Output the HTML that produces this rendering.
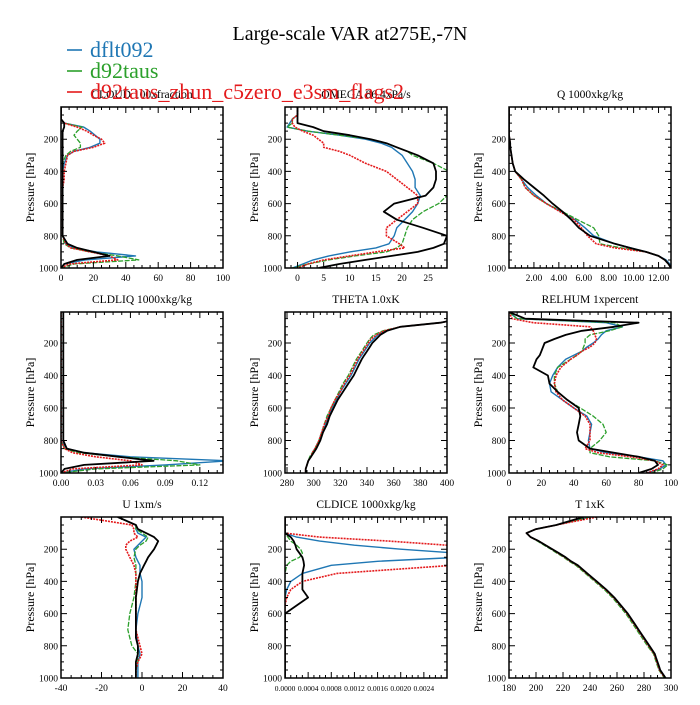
<!DOCTYPE html>
<html><head><meta charset="utf-8">
<style>
body{margin:0;background:#fff;}
svg text{font-family:"Liberation Serif",serif;}
</style></head>
<body>
<svg id="chart" width="700" height="700" viewBox="0 0 700 700" xmlns="http://www.w3.org/2000/svg">
<text x="350" y="40" text-anchor="middle" font-size="20">Large-scale VAR at275E,-7N</text>
</svg>
<script>
const P=[0,50,75,100,125,150,175,200,225,250,275,300,350,400,450,500,550,600,650,700,750,800,850,875,900,925,950,975,1000];
const seriesNames=["dflt092","d92taus","d92taus_zhun_c5zero_e3sm_flags2"];
const panelTitles=["CLOUD  100xfraction","OMEGA  86.4xPa/s","Q  1000xkg/kg","CLDLIQ  1000xkg/kg","THETA  1.0xK","RELHUM  1xpercent","U  1xm/s","CLDICE  1000xkg/kg","T  1xK"];
const xRanges=[[0,100],[-2.4,28.6],[0,13],[0,0.14],[278.5,400],[0,100],[-40,40],[0,0.0028],[180,300]];
const xTicks=[[0,20,40,60,80,100],[0,5,10,15,20,25],[2,4,6,8,10,12],[0,0.03,0.06,0.09,0.12],[280,300,320,340,360,380,400],[0,20,40,60,80,100],[-40,-20,0,20,40],[0,0.0004,0.0008,0.0012,0.0016,0.002,0.0024],[180,200,220,240,260,280,300]];
const xTickLabels=[["0","20","40","60","80","100"],["0","5","10","15","20","25"],["2.00","4.00","6.00","8.00","10.00","12.00"],["0.00","0.03","0.06","0.09","0.12"],["280","300","320","340","360","380","400"],["0","20","40","60","80","100"],["-40","-20","0","20","40"],["0.0000","0.0004","0.0008","0.0012","0.0016","0.0020","0.0024"],["180","200","220","240","260","280","300"]];
const yTicks=[200,400,600,800,1000];

const cloud_blue=[0,0,0,2,14,18,21,24,24,18,8,4,2,1,1,1,1,1,1,1,1,1,3,8,22,46,15,2,0];
const cloud_green=[0,0,0,2,13,10,8,10,12,12,6,3,1,1,1,1,1,1,1,1,1,1,2,6,18,35,48,8,0];
const cloud_red=[0,0,0,2,10,16,20,25,27,20,8,4,3,2,2,1,1,1,1,1,1,1,3,6,18,30,35,5,0];
const cloud_black=[0,0,0,2,2,1,1,1,1,1,1,1,1,1,1,1,1,1,1,1,1,1,4,10,20,30,10,2,0];

const omega_blue=[0,0,-1,-1.5,-2,2,8,13,16,18,19,20,21,22,22.5,22.5,23.5,23,22,20.5,19,18.5,17.5,15,10,6,3,1,-1];
const omega_green=[0,0,-1,-1,-2,2,8,14,17,19,21,22,26,29,30,30,28.6,27,24,22,21,20.5,20,19,17,11,6,2,-1];
const omega_red=[0,0,-1,-1,-0.5,1,3,4,5,5,8,10,13,17,19,21,23,23,21,19,17,17,19.5,20.5,15,10,5,2,0];
const omega_black=[0,0,0,0,3,5,10,14,17,19,21,23,26,26.5,26.5,26,24.5,18.5,16.5,19,24,28.6,28,26,23,18,13,8,4];

const q_blue=[0,0,0,0,0,0,0,0.05,0.1,0.1,0.15,0.2,0.3,0.5,1,1.5,2.2,3,4.2,5.3,6.1,6.8,8.5,9.8,11,12,12.6,12.9,13];
const q_green=[0,0,0,0,0,0,0,0.05,0.1,0.1,0.15,0.2,0.3,0.5,1,1.3,2,3,4.3,5.5,6.8,7.2,7.3,9,11,12,12.5,12.8,13];
const q_red=[0,0,0,0,0,0,0,0.05,0.1,0.1,0.15,0.2,0.3,0.5,1,1.3,2,3,4.1,5.2,5.8,6.3,7.0,8.5,11,12,12.5,12.8,13];
const q_black=[0,0,0,0,0,0,0,0.05,0.1,0.1,0.15,0.2,0.3,0.5,1.2,2,2.8,3.5,4.3,5,5.6,6.5,8.5,9.7,11,12,12.5,12.8,13];

const liq_blue=[0,0,0,0,0,0,0,0,0,0,0,0,0,0,0,0,0,0,0,0,0,0,0.005,0.02,0.06,0.145,0.09,0.02,0];
const liq_green=[0,0,0,0,0,0,0,0,0,0,0,0,0,0,0,0,0,0,0,0,0,0,0.003,0.015,0.05,0.1,0.12,0.03,0];
const liq_red=[0,0,0,0,0,0,0,0,0,0,0,0,0,0,0,0,0,0,0,0,0,0,0.003,0.01,0.03,0.06,0.07,0.01,0];
const liq_black=[0.002,0.002,0.002,0.002,0.002,0.002,0.002,0.002,0.002,0.002,0.002,0.002,0.002,0.002,0.002,0.002,0.002,0.002,0.002,0.002,0.002,0.002,0.005,0.02,0.05,0.08,0.02,0.003,0];

const theta_blue=[420,410,395,365,354,348,345,342,340,338,336,334,331,328,324,320,317,314,311,309,306,304,301,299,298,296,295,294,294];
const theta_green=[420,410,395,365,352,345,342,340,338,336,334,332,329,326,322,319,316,313,310,308,306,304,301,299,297,296,295,294,294];
const theta_red=[420,410,395,365,353,347,343,341,339,337,335,333,330,327,323,320,316,313,311,308,306,304,301,299,298,296,295,294,294];
const theta_black=[420,410,395,365,355,350,347,344,342,340,338,336,333,330,326,322,318,315,312,310,307,305,302,300,298,296,295,294,294];

const rh_blue=[0,5,60,70,60,57,55,52,48,45,40,35,30,27,25,26,33,40,48,51,50,49,50,60,80,95,97,93,85];
const rh_green=[0,5,65,70,62,50,47,47,46,45,42,38,30,28,28,30,36,44,52,58,60,56,50,50,62,90,98,95,88];
const rh_red=[0,2,15,50,52,53,54,53,50,45,42,38,32,29,28,29,33,40,47,50,50,50,47,55,75,90,95,92,85];
const rh_black=[0,10,80,65,45,35,28,22,21,20,19,17,15,24,25,30,36,43,44,43,42,43,50,65,80,90,92,88,80];

const u_blue=[-12,-3,-3,-2,2,0,-2,-4,-3.5,-3,-2,-1,-1,0,0,0,-1,-2,-2.5,-3,-2.5,-2,-1,-1.5,-2,-2,-2,-2,-2];
const u_green=[-12,-3,-3,0,3,2,-1,-3,-3.5,-4,-3.5,-3,-3,-3,-3.5,-4,-5,-6,-6.5,-7,-6,-5,-2,-2,-2,-2.5,-3,-3,-3];
const u_red=[-30,-5,-4,-4,-2,-6,-8,-8,-7,-6,-5,-4,-3,-3,-3,-3,-3,-3,-3,-3,-2,-1,0,-1,-2,-2.5,-3,-3,-3];
const u_black=[-12,-3,-2,2,6,8,7,6,4.5,3,2,1,-1,-2,-2.5,-3,-3,-3,-3,-3,-3,-2,-2,-2.5,-3,-3,-3,-3,-3];

const ice_blue=[0,0,0,0,0.0002,0.0006,0.0012,0.002,0.003,0.003,0.0016,0.0008,0.0003,0.0001,0.00003,0,0,0,0,0,0,0,0,0,0,0,0,0,0];
const ice_green=[0,0,0,0,0.00005,0.0001,0.0002,0.00027,0.0003,0.00025,0.0001,0.00003,0,0,0,0,0,0,0,0,0,0,0,0,0,0,0,0,0];
const ice_red=[0,0,0,0,0.0006,0.0018,0.0028,0.0035,0.0035,0.0035,0.0035,0.0029,0.0009,0.0003,0.0001,0.00003,0,0,0,0,0,0,0,0,0,0,0,0,0];
const ice_black=[0,0,0,0,0.0001,0.00015,0.00018,0.0002,0.00025,0.0003,0.00032,0.00033,0.0003,0.0003,0.0003,0.0004,0.0002,0,0,0,0,0,0,0,0,0,0,0,0];

const t_blue=[240,215,200,193,196,202,207,212,216.5,221.5,225.5,230.5,237.5,244.5,251.5,257.5,262.5,267.5,271.5,275.5,279.5,283.5,287.5,288.5,289.5,290.5,291.5,293.5,295.5];
const t_green=[240,215,200,193,196,201,206,211,215.5,220.5,224.5,229.5,236.5,243.5,250.5,256.5,261.5,266.5,270.5,274.5,278.5,282.5,287,288,289,290,291,293,295];
const t_red=[245,215,200,193,196,202,207,212,216.5,221.5,225.5,230.5,237.5,244.5,251.5,257.5,262.5,267.5,271.5,275.5,279.5,283.5,287.5,288.5,289.5,290.5,291.5,293.5,295.5];
const t_black=[235,215,200,193,196,202,207,212,217,222,226,231,238,245,252,258,263,268,272,276,280,284,288,289,290,291,292,294,296];

const panelSeries=[
 [cloud_blue,cloud_green,cloud_red,cloud_black],
 [omega_blue,omega_green,omega_red,omega_black],
 [q_blue,q_green,q_red,q_black],
 [liq_blue,liq_green,liq_red,liq_black],
 [theta_blue,theta_green,theta_red,theta_black],
 [rh_blue,rh_green,rh_red,rh_black],
 [u_blue,u_green,u_red,u_black],
 [ice_blue,ice_green,ice_red,ice_black],
 [t_blue,t_green,t_red,t_black]];

const NS="http://www.w3.org/2000/svg";
const svg=document.getElementById('chart');
function mk(tag,attrs,parent){const e=document.createElementNS(NS,tag);for(const k in attrs)e.setAttribute(k,attrs[k]);(parent||svg).appendChild(e);return e;}
const colLeft=[61,285,509], W=162, rowTop=[107,312,517], H=161, rowPmin=[0,9,0];
const styles=[{c:"#1f77b4",w:1.4,d:""},{c:"#2ca02c",w:1.3,d:"5,1.5"},{c:"#e41a1c",w:1.6,d:"2,1"},{c:"#000",w:1.8,d:""}];
const cls=["blue","green","red","black"];

for(let k=0;k<9;k++){
  const r=Math.floor(k/3), c=k%3;
  const L=colLeft[c], T=rowTop[r], pmin=rowPmin[r];
  const [x0,x1]=xRanges[k];
  const xs=v=>L+(v-x0)/(x1-x0)*W;
  const ys=p=>T+(p-pmin)/(1000-pmin)*H;
  const g=mk('g',{});
  
  
  const cp=mk('clipPath',{id:'cp'+k},g);
  mk('rect',{x:L,y:T,width:W,height:H},cp);
  const t=mk('text',{x:L+W/2,y:T-9,'text-anchor':'middle','font-size':'11.5'},g);
  t.textContent=panelTitles[k];
  
  
  const yl=mk('text',{x:L-27,y:T+H/2,'text-anchor':'middle','font-size':'12',transform:`rotate(-90 ${L-27} ${T+H/2})`},g);
  yl.textContent='Pressure [hPa]';
  
  
  for(let s=0;s<4;s++){
    const vals=panelSeries[k][s];
    const d=vals.map((v,i)=>(i?'L':'M')+xs(v).toFixed(1)+','+ys(Math.max(P[i],pmin)).toFixed(1)).join('');
    const st=styles[s];
    const pth=mk('path',{d:d,fill:'none',stroke:st.c,'stroke-width':st.w,'stroke-dasharray':st.d,'clip-path':`url(#cp${k})`,'stroke-linejoin':'round'},g);
    
    
  }
  const box=mk('rect',{x:L,y:T,width:W,height:H,fill:'none',stroke:'#000','stroke-width':1.5},g);
  
  
  let tk='';
  for(let p=50;p<=1000;p+=50){
    if(p<pmin)continue;
    const y=ys(p), len=(p%200===0)?6:3;
    tk+=`M${L},${y}h${len}M${L+W},${y}h${-len}`;
  }
  yTicks.forEach(p=>{
    const lab=mk('text',{x:L-3,y:ys(p)+3.5,'text-anchor':'end','font-size':'9.5'},g);
    lab.textContent=p;
    
    
  });
  const xt=xTicks[k], step=xt[1]-xt[0];
  const fs = k===7 ? 7.5 : 9.5;
  for(let i=0;i<xt.length;i++){
    const x=xs(xt[i]);
    tk+=`M${x},${T+H}v-6M${x},${T}v6`;
    const lab=mk('text',{x:x,y:T+H+13,'text-anchor':'middle','font-size':fs},g);
    lab.textContent=xTickLabels[k][i];
    
    
  }
  for(let v=xt[0]-step;v<=x1+step;v+=step/4){
    if(v<x0-1e-9||v>x1+1e-9)continue;
    const x=xs(v);
    tk+=`M${x},${T+H}v-3M${x},${T}v3`;
  }
  mk('path',{d:tk,stroke:'#000','stroke-width':1,fill:'none'},g);
}
const legY=[57,78,99];
const legCols=["#1f77b4","#2ca02c","#e41a1c"];
for(let i=0;i<3;i++){
  const lg=mk('g',{});
  
  
  mk('line',{x1:67,x2:82,y1:legY[i]-7,y2:legY[i]-7,stroke:legCols[i],'stroke-width':1.6},lg);
  const t=mk('text',{x:90,y:legY[i],'font-size':'22',fill:legCols[i]},lg);
  t.textContent=seriesNames[i];
}
</script>
</body></html>
